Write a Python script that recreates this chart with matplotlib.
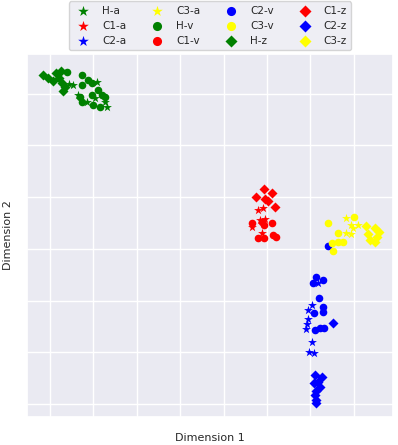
import numpy as np
import matplotlib
matplotlib.use("Agg")
import matplotlib.pyplot as plt
import seaborn as sns

sns.set_theme(style="darkgrid")
plt.rcParams['font.family'] = ['DejaVu Sans']

# embedding coordinates per group (x, y)
h_a = [(-25.6, 31.9), (-24.7, 31.7), (-19.2, 32.3), (-23.6, 29.8), (-19.6, 29.2),
       (-17.3, 28.3), (-16.9, 27.5), (-21.5, 28.3)]
c1_a = [(17.9, 7.5), (19.0, 7.9), (18.4, 5.6), (16.5, 4.3), (18.8, 3.1), (19.5, 5.8)]
c2_a = [(31.7, -6.6), (30.3, -10.8), (29.4, -11.8), (29.4, -13.5), (29.2, -14.5),
        (28.9, -15.5), (30.3, -18.0), (29.6, -19.9), (30.8, -20.1)]
c3_a = [(38.2, 6.0), (39.3, 4.6), (39.8, 4.0), (40.9, 4.6), (38.2, 3.1), (39.3, 2.9)]

h_v = [(-26.1, 34.1), (-22.6, 33.7), (-22.6, 31.7), (-21.2, 32.7), (-20.3, 32.1),
       (-23.1, 29.4), (-22.6, 28.4), (-20.3, 29.8), (-18.9, 30.8), (-18.0, 29.8),
       (-17.3, 29.4), (-20.1, 27.9), (-18.5, 27.5)]
c1_v = [(16.5, 5.0), (18.8, 5.2), (19.3, 4.6), (21.1, 5.0), (17.9, 2.1),
        (19.3, 2.1), (21.3, 2.7), (22.0, 2.3)]
c2_v = [(31.4, -5.4), (30.6, -6.6), (32.9, -6.0), (31.9, -9.5), (32.9, -11.2),
        (30.8, -12.4), (32.9, -12.3), (31.0, -15.7), (32.2, -15.3), (33.1, -15.3),
        (34.0, 0.6)]
c3_v = [(40.0, 6.2), (34.0, 5.0), (36.3, 3.1), (36.3, 1.3), (37.5, 1.3),
        (34.9, 1.1), (35.2, -0.4)]

h_z = [(-31.6, 33.7), (-30.5, 33.1), (-29.3, 32.5), (-28.6, 34.0), (-27.5, 34.4),
       (-28.0, 33.0), (-27.2, 32.0), (-26.5, 31.3), (-27.0, 30.6)]
c1_z = [(19.3, 11.6), (17.4, 10.1), (21.1, 10.8), (19.5, 9.7), (20.2, 9.3), (21.8, 8.1)]
c2_z = [(35.2, -14.3), (31.0, -24.4), (32.6, -24.8), (31.7, -25.7), (30.8, -25.9),
        (32.2, -26.7), (31.4, -27.5), (31.0, -28.3), (31.2, -29.2), (31.4, -29.8)]
c3_z = [(42.8, 4.4), (44.8, 4.0), (43.2, 2.9), (45.3, 2.3), (44.8, 1.3), (45.8, 3.3),
        (43.8, 1.8)]

groups = [
    ('H-a', h_a, 'green', '*'), ('C1-a', c1_a, 'red', '*'),
    ('C2-a', c2_a, 'blue', '*'), ('C3-a', c3_a, 'yellow', '*'),
    ('H-v', h_v, 'green', 'o'), ('C1-v', c1_v, 'red', 'o'),
    ('C2-v', c2_v, 'blue', 'o'), ('C3-v', c3_v, 'yellow', 'o'),
    ('H-z', h_z, 'green', 'D'), ('C1-z', c1_z, 'red', 'D'),
    ('C2-z', c2_z, 'blue', 'D'), ('C3-z', c3_z, 'yellow', 'D'),
]
sizes = {'*': 45, 'o': 30, 'D': 26}

fig = plt.figure(figsize=(3.98, 4.45), dpi=100)
ax = fig.add_axes([0.068, 0.063, 0.919, 0.816])

for label, pts, color, marker in groups:
    pts = np.array(pts)
    ax.scatter(pts[:, 0], pts[:, 1], c=color, marker=marker, s=sizes[marker],
               linewidths=0, label=label)

ax.set_xlim(-35.3, 49.0)
ax.set_ylim(-32.5, 37.7)
ax.set_xticks(np.arange(-30, 41, 10))
ax.set_yticks(np.arange(-30, 31, 10))
ax.set_xticklabels([])
ax.set_yticklabels([])
ax.set_xlabel('Dimension 1', fontsize=8, labelpad=2)
ax.set_ylabel('Dimension 2', fontsize=8, labelpad=0.5)

ax.legend(loc='lower center', bbox_to_anchor=(0.5, 1.01), ncol=4,
          fontsize=7.5, borderaxespad=0, markerscale=1.2)

fig.savefig('out.png', dpi=100)
